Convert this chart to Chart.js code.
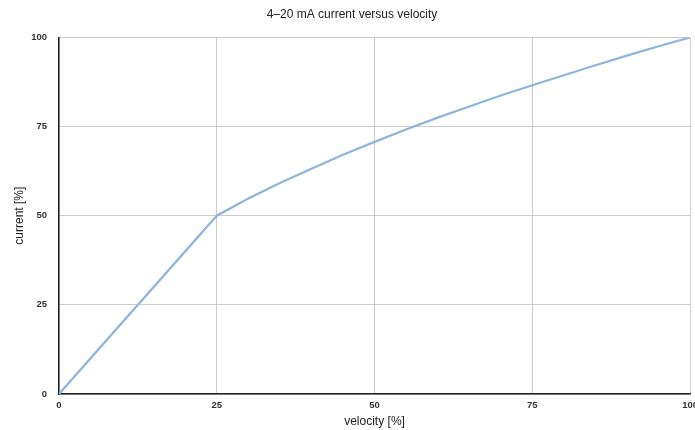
<!DOCTYPE html>
<html>
<head>
<meta charset="utf-8">
<script src="https://cdn.jsdelivr.net/npm/chart.js@4"></script>
<style>
  html, body { margin: 0; padding: 0; background: #fff; overflow: hidden; }
  #wrap { width: 704px; height: 430px; }
</style>
</head>
<body>
<div id="wrap"><canvas id="chart"></canvas></div>
<script>
// velocity [%] and current [%]
const velocity = [0, 25, 30, 35, 40, 45, 50, 55, 60, 65, 70, 75, 80, 85, 90, 95, 100];
const current = [0, 50, 54.8, 59.2, 63.2, 67.1, 70.7, 74.2, 77.5, 80.6, 83.7, 86.6, 89.4, 92.2, 94.9, 97.5, 100];
const tickValues = [0, 25, 50, 75, 100];

const points = velocity.map((v, i) => ({ x: v, y: current[i] }));

const tickFont = { family: 'Liberation Sans, Arial', size: 9.5, weight: 'bold' };
const titleFont = { family: 'Liberation Sans, Arial', size: 12, weight: 'normal' };

new Chart(document.getElementById('chart').getContext('2d'), {
    type: 'line',
    data: {
        datasets: [{
            data: points,
            borderColor: '#8fb4dd',
            borderWidth: 2.2,
            pointRadius: 0,
            fill: false,
            tension: 0
        }]
    },
    options: {
        responsive: true,
        maintainAspectRatio: false,
        animation: false,
        layout: { padding: { left: 0, right: 0, top: 3, bottom: 0 } },
        plugins: {
            legend: { display: false },
            tooltip: { enabled: false },
            title: {
                display: true,
                text: '4–20 mA current versus velocity',
                color: '#222',
                font: titleFont,
                padding: { top: 4, bottom: 16 }
            }
        },
        scales: {
            x: {
                type: 'linear',
                min: 0,
                max: 100,
                afterBuildTicks: (axis) => { axis.ticks = tickValues.map(v => ({ value: v })); },
                afterFit: (axis) => { axis.height = 36; },
                grid: { color: '#cccccc', lineWidth: 1, drawTicks: false },
                border: { color: '#222', width: 1.5 },
                ticks: { color: '#333', font: tickFont, padding: 6, maxRotation: 0 },
                title: { display: true, text: 'velocity [%]', color: '#222', font: titleFont, padding: { top: 0, bottom: 1 } }
            },
            y: {
                min: 0,
                max: 100,
                afterBuildTicks: (axis) => { axis.ticks = tickValues.map(v => ({ value: v })); },
                afterFit: (axis) => { axis.width = 59; },
                grid: { color: '#cccccc', lineWidth: 1, drawTicks: false },
                border: { color: '#222', width: 1.5 },
                ticks: { color: '#333', font: tickFont, padding: 12 },
                title: { display: true, text: 'current [%]', color: '#222', font: titleFont, padding: { top: 12, bottom: 0 } }
            }
        }
    }
});
</script>
</body>
</html>
